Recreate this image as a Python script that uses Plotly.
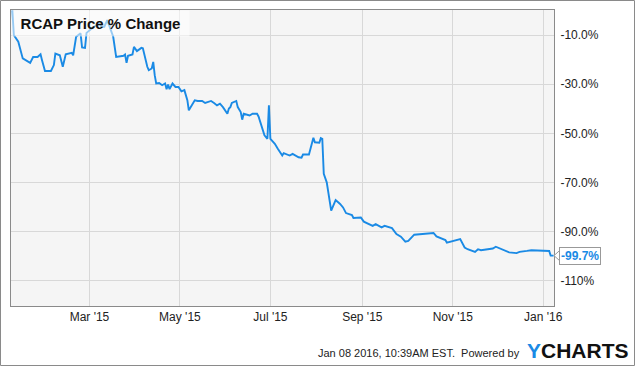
import plotly.graph_objects as go

dates = [
    "2015-01-08", "2015-01-09", "2015-01-12", "2015-01-15", "2015-01-20", "2015-01-22",
    "2015-01-25", "2015-01-27", "2015-01-28", "2015-01-30", "2015-02-03", "2015-02-05",
    "2015-02-06", "2015-02-09", "2015-02-11", "2015-02-13", "2015-02-17", "2015-02-18",
    "2015-02-20", "2015-02-23", "2015-02-24", "2015-02-26", "2015-02-27", "2015-03-01",
    "2015-03-04", "2015-03-06", "2015-03-08", "2015-03-09", "2015-03-11", "2015-03-13",
    "2015-03-16", "2015-03-17", "2015-03-19", "2015-03-24", "2015-03-25", "2015-03-26",
    "2015-03-27", "2015-03-30", "2015-03-31", "2015-04-02", "2015-04-05", "2015-04-06",
    "2015-04-09", "2015-04-10", "2015-04-12", "2015-04-13", "2015-04-14", "2015-04-15",
    "2015-04-17", "2015-04-19", "2015-04-21", "2015-04-22", "2015-04-23", "2015-04-24",
    "2015-04-26", "2015-04-28", "2015-04-30", "2015-05-02", "2015-05-04", "2015-05-06",
    "2015-05-07", "2015-05-10", "2015-05-11", "2015-05-13", "2015-05-16", "2015-05-18",
    "2015-05-20", "2015-05-22", "2015-05-24", "2015-05-26", "2015-05-28", "2015-05-30",
    "2015-06-02", "2015-06-03", "2015-06-04", "2015-06-05", "2015-06-08", "2015-06-09",
    "2015-06-11", "2015-06-12", "2015-06-13", "2015-06-15", "2015-06-17", "2015-06-19",
    "2015-06-22", "2015-06-23", "2015-06-25", "2015-06-27", "2015-06-29", "2015-06-30",
    "2015-07-01", "2015-07-04", "2015-07-06", "2015-07-09", "2015-07-10", "2015-07-11",
    "2015-07-14", "2015-07-16", "2015-07-20", "2015-07-22", "2015-07-23", "2015-07-27",
    "2015-07-29", "2015-07-30", "2015-07-31", "2015-08-03", "2015-08-04", "2015-08-05",
    "2015-08-06", "2015-08-08", "2015-08-11", "2015-08-12", "2015-08-14", "2015-08-17",
    "2015-08-19", "2015-08-21", "2015-08-25", "2015-08-26", "2015-08-31", "2015-09-02",
    "2015-09-06", "2015-09-08", "2015-09-10", "2015-09-14", "2015-09-16", "2015-09-21",
    "2015-09-24", "2015-09-27", "2015-09-30", "2015-10-02", "2015-10-06", "2015-10-10",
    "2015-10-19", "2015-10-21", "2015-10-27", "2015-10-28", "2015-11-01", "2015-11-06",
    "2015-11-09", "2015-11-11", "2015-11-16", "2015-11-18", "2015-11-20", "2015-11-28",
    "2015-11-30", "2015-12-04", "2015-12-09", "2015-12-14", "2015-12-16", "2015-12-21",
    "2015-12-24", "2016-01-05", "2016-01-06", "2016-01-08",
]
pct_change = [
    0.0, -10.0, -12.7, -19.5, -21.3, -18.9,
    -18.9, -17.8, -20.2, -24.6, -24.6, -22.2,
    -17.5, -18.2, -22.9, -17.8, -17.2, -18.2,
    -10.7, -9.3, -15.0, -15.2, -9.1, -8.0,
    -6.6, -5.9, -5.2, -6.6, -6.6, -3.9,
    -8.7, -10.7, -18.9, -18.4, -17.9, -21.3,
    -18.4, -17.9, -14.8, -16.5, -15.2, -15.4,
    -22.9, -24.3, -23.6, -20.9, -26.3, -29.7,
    -29.5, -30.4, -29.7, -32.0, -30.1, -32.0,
    -29.7, -31.1, -31.1, -32.9, -32.4, -36.5,
    -40.6, -37.9, -36.5, -36.8, -36.8, -37.6,
    -37.2, -36.8, -37.6, -38.6, -37.9, -39.3,
    -42.0, -39.9, -39.3, -37.6, -36.8, -39.3,
    -41.3, -44.4, -42.0, -42.4, -42.7, -42.0,
    -42.0, -43.1, -47.4, -50.8, -52.2, -38.6,
    -52.2, -54.2, -56.2, -59.0, -58.0, -58.3,
    -59.0, -58.3, -59.7, -59.9, -58.6, -58.6,
    -53.6, -51.8, -53.6, -53.8, -51.9, -52.2,
    -66.4, -69.9, -81.4, -80.1, -77.1, -78.7,
    -80.1, -82.4, -83.2, -84.4, -84.2, -85.9,
    -87.1, -87.6, -86.9, -88.2, -87.6, -88.5,
    -90.9, -92.0, -94.0, -93.7, -91.2, -90.9,
    -90.5, -91.9, -93.4, -94.4, -93.7, -93.0,
    -96.4, -97.1, -98.2, -97.1, -97.5, -96.8,
    -96.1, -97.1, -98.4, -98.7, -98.2, -97.8,
    -97.5, -97.8, -99.7, -99.7,
]

x_tickvals = ["2015-03-01", "2015-05-01", "2015-07-01", "2015-09-01", "2015-11-01", "2016-01-01"]
x_ticktext = ["Mar '15", "May '15", "Jul '15", "Sep '15", "Nov '15", "Jan '16"]
y_tickvals = [-10, -30, -50, -70, -90, -110]
y_ticktext = ["-10.0%", "-30.0%", "-50.0%", "-70.0%", "-90.0%", "-110%"]

title_text = "RCAP Price % Change"
last_label = "-99.7%"
footer_text = "Jan 08 2016, 10:39AM EST.&nbsp;&nbsp;Powered by"

LINE = "#1a8ae5"
FONT = "Liberation Sans, Arial, sans-serif"
Y_RANGE = [-120.2, 0.2]
X_RANGE = ["2015-01-07 02:00", "2016-01-08 06:00"]

W, H = 635, 366
ML, MR, MT, MB = 11, 81, 10, 60
PW, PH = W - ML - MR, H - MT - MB

fig = go.Figure()
fig.add_trace(go.Scatter(x=dates, y=pct_change, mode="lines",
                         line=dict(color=LINE, width=1.9), hoverinfo="skip"))

last = pct_change[-1]
ylast = (last - Y_RANGE[0]) / (Y_RANGE[1] - Y_RANGE[0])
dx = 5 / PW
dy = 4.5 / PH

fig.update_layout(
    width=W, height=H,
    margin=dict(l=ML, r=MR, t=MT, b=MB),
    paper_bgcolor="white",
    plot_bgcolor="#f5f5f5",
    showlegend=False,
    font=dict(family=FONT, size=12, color="#222"),
    xaxis=dict(range=X_RANGE, tickvals=x_tickvals, ticktext=x_ticktext,
               showgrid=True, gridcolor="#d8d8d8", gridwidth=1,
               showline=True, linecolor="#8a8a8a", linewidth=1, mirror=True,
               ticks="", zeroline=False, tickfont=dict(size=12, color="#222")),
    yaxis=dict(range=Y_RANGE, side="right", tickvals=y_tickvals, ticktext=y_ticktext,
               showgrid=True, gridcolor="#d8d8d8", gridwidth=1,
               showline=True, linecolor="#8a8a8a", linewidth=1, mirror=True,
               ticks="outside", ticklen=3, tickcolor="rgba(0,0,0,0)",
               zeroline=False, tickfont=dict(size=12, color="#222")),
    shapes=[
        dict(type="rect", xref="paper", yref="paper",
             x0=(0.5 - ML) / PW, x1=(W - 0.5 - ML) / PW,
             y0=-(MB - 0.5) / PH, y1=(PH + MT - 0.5) / PH,
             line=dict(color="#8a8a8a", width=1), fillcolor="rgba(0,0,0,0)", layer="below"),
        dict(type="path", xref="paper", yref="paper",
             path=f"M {1 + dx} {ylast + dy} L 1 {ylast} L {1 + dx} {ylast - dy}",
             line=dict(color="#999", width=1), fillcolor="white"),
    ],
    annotations=[
        dict(text=f"<b>{title_text}</b>", xref="paper", yref="paper", x=0, y=1,
             xanchor="left", yanchor="top", showarrow=False, width=171, height=19,
             borderpad=3, bgcolor="rgba(255,255,255,0.55)", align="center",
             font=dict(size=15, color="#111", family=FONT)),
        dict(text=f"<b>{last_label}</b>", xref="paper", yref="y", x=1, y=last,
             xanchor="left", yanchor="middle", xshift=5, showarrow=False,
             bordercolor="#999", borderwidth=1, borderpad=1, bgcolor="white",
             font=dict(size=12, color=LINE, family=FONT)),
        dict(text=footer_text, xref="paper", yref="paper",
             x=(522 - ML) / PW, y=(H - MB - 353) / PH, xanchor="right", yanchor="middle",
             showarrow=False, font=dict(size=11, color="#222", family=FONT)),
        dict(text="<b><span style='color:#1a8ae5'>Y</span>CHARTS</b>", xref="paper", yref="paper",
             x=(525 - ML) / PW, y=(H - MB - 350) / PH, xanchor="left", yanchor="middle",
             showarrow=False, font=dict(size=21, color="#111", family=FONT)),
    ],
)

fig.write_html("out.html")
